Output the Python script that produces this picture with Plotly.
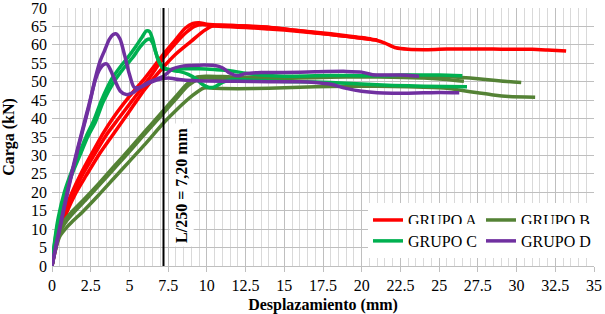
import plotly.graph_objects as go

# ---------------- data ----------------
A1_x = [0, 0.15, 0.4, 0.8, 1.3, 1.8, 2.5, 3.3, 4, 5, 6, 7.2, 8, 8.6, 9.1, 9.5, 10, 11, 12, 13, 14, 15, 16, 17, 18, 19, 20, 20.6]
A1_y = [0, 5, 10, 15, 20, 24.5, 30, 36, 40.5, 46, 51, 57.5, 61.5, 64.5, 65.8, 66, 65.6, 65.3, 65.2, 65, 64.7, 64.3, 63.8, 63.4, 63, 62.5, 62, 61.6]
A2_x = [0, 0.2, 0.5, 0.9, 1.4, 2, 2.7, 3.5, 4.3, 5.2, 6.2, 7.2, 8, 8.7, 9.2, 9.7, 10.3, 11, 12, 13, 14, 15, 16, 17, 18, 19, 20, 21, 21.5, 22.2, 23, 24, 25, 26, 27, 28, 29, 30, 31, 32, 33.2]
A2_y = [0, 5, 10, 15, 20, 25, 30, 35.5, 40, 45, 50.5, 56.5, 60.5, 63.5, 65, 65.5, 65.2, 65, 64.8, 64.6, 64.3, 64, 63.6, 63.2, 62.8, 62.3, 61.8, 61.2, 60.5, 59.2, 58.8, 58.7, 58.8, 58.9, 58.9, 58.9, 58.8, 58.8, 58.8, 58.6, 58.3]
A3_x = [0, 0.2, 0.5, 1, 1.5, 2.2, 3, 4, 5, 6, 7.2, 8, 9, 9.8, 10.4, 11, 12, 13, 14, 15, 16, 17, 18, 19, 20, 21]
A3_y = [0, 4, 9, 15, 19.5, 24.5, 30, 36, 42, 48, 54, 57.5, 61, 63.8, 65.2, 65.3, 65.2, 65, 64.8, 64.3, 63.8, 63.3, 62.8, 62.3, 61.8, 61.3]

B1_x = [0, 0.2, 0.5, 0.85, 1.3, 2, 3, 4, 5, 6, 7.2, 8, 8.7, 9.3, 10, 11, 12, 14, 16, 18, 20, 22, 24, 26, 27, 28, 29, 30.3]
B1_y = [0, 5, 9.5, 12.6, 14.8, 17.8, 22.3, 27, 31.7, 36.5, 42.2, 46, 49.3, 51.2, 51.5, 51.4, 51.2, 51.2, 51.3, 51.5, 51.6, 51.7, 51.6, 51.3, 51, 50.6, 50.2, 49.8]
B2_x = [0, 0.2, 0.5, 0.9, 1.4, 2.2, 3.2, 4.2, 5.2, 6.2, 7.2, 8, 8.8, 9.5, 10, 11, 12, 14, 16, 18, 20, 22, 24, 25.5, 26.6]
B2_y = [0, 4.5, 9, 12, 14.5, 18, 22.6, 27.3, 32, 36.8, 41.5, 45.3, 49, 50.7, 51, 50.8, 50.7, 50.8, 51, 51.2, 51.3, 51.2, 51, 50.6, 50.1]
B3_x = [0, 0.2, 0.5, 0.85, 1.3, 2, 3, 4, 5, 6, 7.2, 8, 9, 9.8, 10.5, 12, 14, 16, 18, 20, 22, 24, 25.5, 26.5, 27.5, 28.5, 29.5, 31.2]
B3_y = [0, 4, 8, 10, 12, 14.8, 19.2, 23.8, 28.4, 33, 38.8, 42.2, 46, 48.3, 48.2, 48.1, 48.2, 48.5, 48.7, 48.8, 48.7, 48.5, 48.2, 47.6, 47, 46.4, 46, 45.8]

C1_x = [0, 0.15, 0.4, 0.8, 1.3, 1.8, 2.3, 2.7, 3.2, 3.85, 4.4, 4.9, 5.4, 5.8, 6.1, 6.3, 6.5, 6.7, 6.9, 7.2, 7.8, 8.5, 9.5, 10.5, 11.5, 12.5, 13.5, 15, 17, 19, 21, 23, 25, 26.5]
C1_y = [0, 6, 13, 20, 26, 31, 36, 39.5, 45, 50.7, 54, 56.6, 59.5, 62, 63.8, 63.6, 61.5, 58, 55.5, 53.5, 53.3, 53.5, 53.5, 53.3, 53, 52.3, 51.8, 51.5, 51.6, 51.7, 51.6, 51.8, 51.8, 51.6]
C2_x = [0, 0.15, 0.4, 0.8, 1.3, 1.8, 2.3, 2.8, 3.3, 4, 4.6, 5.2, 5.7, 6.1, 6.3, 6.5, 6.7, 6.9, 7.2, 7.6, 8.2, 8.8, 9.3, 9.7, 10.1, 10.5, 11, 11.6, 12.5, 14, 16, 18, 20, 22, 24, 26.8]
C2_y = [0, 5.5, 12, 19, 25, 30, 35, 39, 44.5, 50, 53.5, 56.5, 59.5, 61.3, 61.6, 60.5, 58, 55.5, 53.8, 53.2, 52.8, 52, 50.8, 49.3, 48.5, 48.6, 49.8, 50.6, 50.5, 50.2, 50, 49.8, 49.4, 49, 48.8, 48.6]

D1_x = [0, 0.2, 0.5, 0.8, 1.2, 1.6, 2, 2.4, 2.8, 3.1, 3.4, 3.7, 3.95, 4.15, 4.4, 4.7, 5, 5.3, 5.7, 6.2, 6.8, 7.5, 8.2, 9, 10, 12, 14, 16, 17, 18, 19, 20, 21, 22, 23, 24, 25, 26.3]
D1_y = [0, 4, 10, 16, 23.5, 30.5, 37, 43.5, 51, 55.5, 58.5, 61.5, 62.8, 63, 61.5, 57, 52, 48.5, 48.5, 49.5, 50.5, 51, 50.6, 50.3, 50.2, 50.1, 50, 50, 49.8, 49.3, 48.2, 47.4, 47, 46.9, 46.9, 47, 47.1, 47]
D2_x = [0, 0.2, 0.5, 0.8, 1.2, 1.6, 2, 2.4, 2.8, 3.1, 3.35, 3.55, 3.8, 4.1, 4.4, 4.8, 5.2, 5.7, 6.2, 6.8, 7.2, 7.8, 8.5, 9.5, 10.5, 11, 11.5, 12, 12.5, 13.5, 15, 17, 19, 20, 20.7, 21.5, 22.5, 23.7]
D2_y = [0, 4.5, 10.5, 16.5, 24, 31, 37.5, 44, 50.5, 53.5, 54.7, 54.8, 53, 50, 47.5, 46.5, 47, 48.5, 49.8, 50.8, 51.5, 53.5, 54.3, 54.5, 54.4, 53.8, 52.3, 51.6, 52.2, 52.5, 52.5, 52.7, 52.8, 52.6, 51.9, 51.8, 51.8, 51.5]

limit_x = 7.2
x_ticks = [0, 2.5, 5, 7.5, 10, 12.5, 15, 17.5, 20, 22.5, 25, 27.5, 30, 32.5, 35]
x_tick_labels = ["0", "2.5", "5", "7.5", "10", "12.5", "15", "17.5", "20", "22.5", "25", "27.5", "30", "32.5", "35"]

FONT = "Liberation Serif"
groups = [
    ("GRUPO A", "#ff0000", [(A1_x, A1_y), (A2_x, A2_y), (A3_x, A3_y)], "legend"),
    ("GRUPO B", "#548235", [(B1_x, B1_y), (B2_x, B2_y), (B3_x, B3_y)], "legend"),
    ("GRUPO C", "#00b050", [(C1_x, C1_y), (C2_x, C2_y)], "legend2"),
    ("GRUPO D", "#7030a0", [(D1_x, D1_y), (D2_x, D2_y)], "legend2"),
]

fig = go.Figure()
for name, color, curves, leg in groups:
    for i, (xs, ys) in enumerate(curves):
        fig.add_trace(go.Scatter(
            x=xs, y=ys, mode="lines", name=name, legendgroup=name,
            showlegend=(i == 0), legend=leg,
            line=dict(color=color, width=3.5, shape="spline", smoothing=0.7),
        ))

fig.add_shape(type="line", x0=limit_x, x1=limit_x, y0=0, y1=70, xref="x", yref="y",
              line=dict(color="black", width=2))
fig.add_annotation(x=8.4, y=22, xref="x", yref="y", text="<b>L/250 = 7,20 mm</b>",
                   textangle=-90, showarrow=False, bgcolor="white", borderpad=3,
                   font=dict(family=FONT, size=16, color="black"))

legend_common = dict(orientation="h", xanchor="left", yanchor="middle",
                     bgcolor="white", borderwidth=0, entrywidth=68,
                     entrywidthmode="pixels", itemwidth=30,
                     font=dict(family=FONT, size=16, color="black"))

fig.update_layout(
    width=605, height=314,
    margin=dict(l=52, r=11, t=8, b=48, autoexpand=False),
    paper_bgcolor="white", plot_bgcolor="white",
    font=dict(family=FONT, size=16, color="black"),
    legend=dict(x=0.583, y=0.178, **legend_common),
    legend2=dict(x=0.583, y=0.097, **legend_common),
    xaxis=dict(range=[0, 35], tickvals=x_ticks, ticktext=x_tick_labels,
               showgrid=True, gridcolor="#bfbfbf", gridwidth=1,
               minor=dict(dtick=0.5, showgrid=True, gridcolor="#d9d9d9", gridwidth=1),
               showline=True, linecolor="#bfbfbf", linewidth=1,
               ticks="outside", ticklen=5, tickcolor="#bfbfbf",
               zeroline=False, automargin=False, ticklabeloverflow="allow",
               title=dict(text="<b>Desplazamiento (mm)</b>",
                          font=dict(family=FONT, size=16))),
    yaxis=dict(range=[0, 70], dtick=5, showgrid=True, gridcolor="#bfbfbf",
               gridwidth=1, zeroline=False, ticks="", automargin=False,
               ticklabeloverflow="allow", ticklabelstandoff=4,
               title=dict(text="<b>Carga (kN)</b>",
                          font=dict(family=FONT, size=16))),
)

fig.write_html("out.html", post_script="document.body.style.margin='0';",
               config={"displayModeBar": False})
